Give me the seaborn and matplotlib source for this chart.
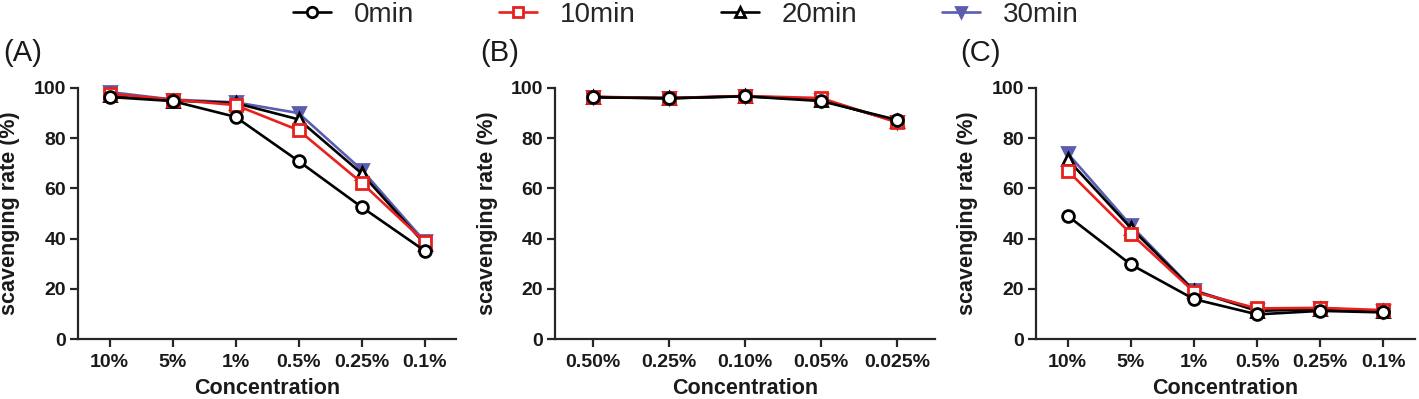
import matplotlib
matplotlib.use("Agg")
import matplotlib.pyplot as plt
from matplotlib.lines import Line2D
import seaborn as sns
import pandas as pd

sns.set_theme(style="ticks")
plt.rcParams['font.family'] = ['Liberation Sans', 'DejaVu Sans']

# ---- data ----
series_names = ["0min", "10min", "20min", "30min"]

conc_A = ["10%", "5%", "1%", "0.5%", "0.25%", "0.1%"]
A_0 = [96.4, 94.8, 88.5, 70.9, 52.6, 35.2]
A_10 = [97.7, 95.4, 93.2, 83.2, 62.3, 38.8]
A_20 = [97.2, 95.0, 94.0, 87.5, 66.0, 38.0]
A_30 = [98.4, 95.4, 94.3, 90.0, 67.5, 39.0]

conc_B = ["0.50%", "0.25%", "0.10%", "0.05%", "0.025%"]
B_0 = [96.3, 95.9, 96.7, 94.8, 87.3]
B_10 = [96.5, 96.0, 96.8, 96.0, 86.3]
B_20 = [96.4, 95.9, 96.7, 95.2, 86.8]
B_30 = [96.4, 96.0, 96.8, 95.4, 86.6]

conc_C = ["10%", "5%", "1%", "0.5%", "0.25%", "0.1%"]
C_0 = [49.1, 29.7, 15.9, 9.8, 11.2, 10.6]
C_10 = [67.1, 42.0, 18.8, 12.2, 12.4, 11.5]
C_20 = [71.6, 44.3, 19.2, 11.2, 11.9, 11.0]
C_30 = [74.0, 45.3, 19.4, 11.6, 12.2, 11.1]

panel_labels = ["(A)", "(B)", "(C)"]
ylabel = "scavenging rate (%)"
xlabel = "Concentration"

# ---- styles ----
colors = {"0min": "black", "10min": "#e8211c", "20min": "black", "30min": "#5a5db0"}
markers = {"0min": "o", "10min": "s", "20min": "^", "30min": "v"}
faces = {"0min": "white", "10min": "white", "20min": "white", "30min": "#5a5db0"}
msizes = {"0min": 8.5, "10min": 8, "20min": 8, "30min": 8}

fig = plt.figure(figsize=(14.19, 3.99), dpi=100)
W, H = 1419, 399
boxes = [(78, 456), (555, 935), (1036, 1415)]
bottom_px, top_px = 339, 88

panels = [
    (conc_A, [A_0, A_10, A_20, A_30]),
    (conc_B, [B_0, B_10, B_20, B_30]),
    (conc_C, [C_0, C_10, C_20, C_30]),
]
ylab_right = [20, 498, 978]

draw_order = [3, 2, 1, 0]
for i, ((cats, vals), (l, r)) in enumerate(zip(panels, boxes)):
    ax = fig.add_axes([l / W, 1 - bottom_px / H, (r - l) / W, (bottom_px - top_px) / H])
    for k in draw_order:
        name = series_names[k]
        df = pd.DataFrame({"conc": cats, "rate": vals[k]})
        sns.lineplot(data=df, x="conc", y="rate", sort=False, ax=ax,
                     color=colors[name], lw=1.9, marker=markers[name],
                     markersize=msizes[name], markerfacecolor=faces[name],
                     markeredgecolor=colors[name], markeredgewidth=2.0,
                     clip_on=False, zorder=3 + (3 - k))
    ax.set_xlim(-0.5, len(cats) - 0.5)
    ax.set_ylim(0, 100)
    ax.set_yticks([0, 20, 40, 60, 80, 100])
    sns.despine(ax=ax)
    for s in ["left", "bottom"]:
        ax.spines[s].set_linewidth(1.6)
    ax.tick_params(axis="both", direction="out", length=5.5, width=1.6,
                   labelsize=14, pad=3)
    ax.tick_params(axis="x", pad=5)
    for t in ax.get_xticklabels() + ax.get_yticklabels():
        t.set_fontweight("bold")
        t.set_color("#1a1a1a")
    ax.set_xlabel(xlabel, fontsize=15.5, fontweight="bold", color="#1a1a1a")
    ax.set_ylabel(ylabel, fontsize=15.5, fontweight="bold", color="#1a1a1a")
    ax.xaxis.set_label_coords(0.5, (bottom_px - 378) / (bottom_px - top_px))
    ax.yaxis.set_label_coords((ylab_right[i] - l) / (r - l), 0.5)
    fig.text((l - 55) / W, 1 - 53 / H, panel_labels[i], fontsize=21,
             ha="center", va="center", color="#1a1a1a")

handles = [Line2D([0], [0], color=colors[n], lw=1.9, marker=markers[n],
                  markersize=msizes[n] - 1, markerfacecolor=faces[n],
                  markeredgecolor=colors[n], markeredgewidth=2.0)
           for n in series_names]
fig.legend(handles, series_names, loc="center", bbox_to_anchor=(0.4834, 0.962),
           ncol=4, frameon=False, handlelength=1.37,
           handletextpad=0.83, columnspacing=3.05,
           prop={"family": ["Liberation Sans", "DejaVu Sans"], "size": 20})

fig.savefig("out.png", dpi=100)
